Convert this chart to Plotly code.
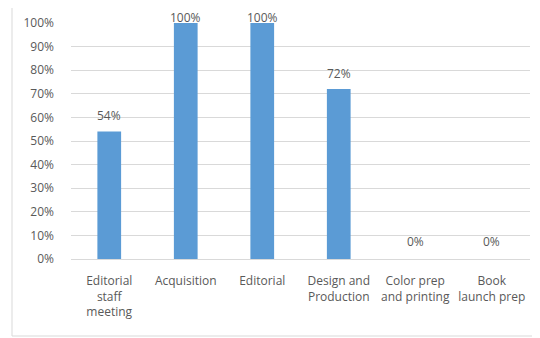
import plotly.graph_objects as go

categories = ["Editorial<br>staff<br>meeting", "Acquisition", "Editorial",
              "Design and<br>Production", "Color prep<br>and printing", "Book<br>launch prep"]
values = [0.54, 1.00, 1.00, 0.72, 0.0, 0.0]
labels = [f"{round(v * 100)}%" for v in values]
tick_vals = [i / 10 for i in range(11)]
tick_text = [f"{i * 10}%" for i in range(11)]

fig = go.Figure(go.Bar(
    x=categories, y=values,
    marker=dict(color="#5b9bd5", line=dict(width=0)),
    width=0.31,
))

for c, v, t in zip(categories, values, labels):
    fig.add_annotation(x=c, y=v, text=t, showarrow=False, yanchor="middle",
                       yshift=6 if v >= 0.95 else (18 if v == 0 else 16),
                       font=dict(size=12, color="#595959"))

fig.update_layout(
    width=532, height=330,
    margin=dict(l=63, r=10, t=15, b=79, autoexpand=False),
    paper_bgcolor="white", plot_bgcolor="white",
    font=dict(family="Open Sans, sans-serif", size=12, color="#595959"),
    showlegend=False,
    xaxis=dict(showgrid=False, showline=False, ticks="", tickangle=0, automargin=False,
               ticklabelstandoff=13,
               tickfont=dict(size=12, color="#595959")),
    yaxis=dict(range=[0, 1], tickvals=tick_vals, ticktext=tick_text, automargin=False,
               showgrid=True, gridcolor="#d9d9d9", gridwidth=1,
               zeroline=True, zerolinecolor="#d9d9d9", zerolinewidth=1,
               showline=False, ticks="", ticklabelstandoff=16,
               tickfont=dict(size=12, color="#595959")),
    shapes=[dict(type="rect", xref="paper", yref="paper",
                 x0=-59 / 459, x1=468 / 459, y0=-77 / 236, y1=254 / 236,
                 line=dict(color="#d9d9d9", width=1), fillcolor="rgba(0,0,0,0)",
                 layer="below")],
)

fig.write_html("out.html")
